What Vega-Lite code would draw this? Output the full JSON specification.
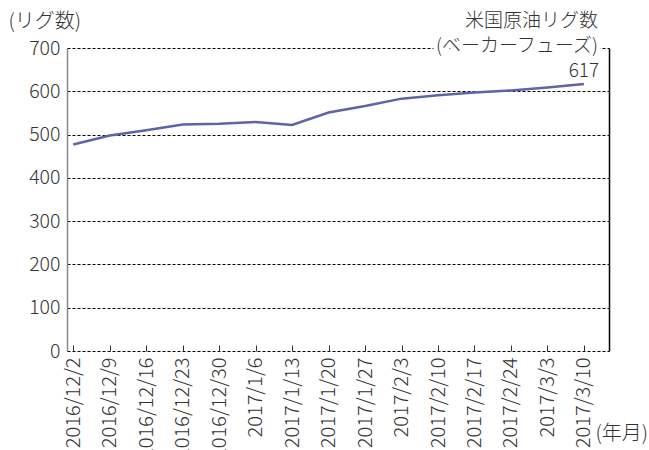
{
  "$schema": "https://vega.github.io/schema/vega-lite/v6.json",
  "autosize": {"type": "none"},
  "width": 542,
  "height": 303,
  "padding": {"left": 67, "top": 48, "right": 40, "bottom": 99},
  "background": "white",
  "config": {
    "view": {"stroke": null},
    "font": "Noto Sans CJK JP",
    "text": {"fontWeight": 300},
    "axis": {
      "labelFont": "Noto Sans CJK JP",
      "labelFontSize": 19.5,
      "labelFontWeight": 300,
      "labelColor": "#333",
      "titleFont": "Noto Sans CJK JP",
      "titleFontSize": 20,
      "titleFontWeight": 300,
      "titleColor": "#333"
    }
  },
  "data": {
    "values": [
      {"date": "2016/12/2", "rigs": 477},
      {"date": "2016/12/9", "rigs": 498},
      {"date": "2016/12/16", "rigs": 510},
      {"date": "2016/12/23", "rigs": 523},
      {"date": "2016/12/30", "rigs": 525},
      {"date": "2017/1/6", "rigs": 529},
      {"date": "2017/1/13", "rigs": 522},
      {"date": "2017/1/20", "rigs": 551},
      {"date": "2017/1/27", "rigs": 566},
      {"date": "2017/2/3", "rigs": 583},
      {"date": "2017/2/10", "rigs": 591},
      {"date": "2017/2/17", "rigs": 597},
      {"date": "2017/2/24", "rigs": 602},
      {"date": "2017/3/3", "rigs": 609},
      {"date": "2017/3/10", "rigs": 617}
    ]
  },
  "layer": [
    {
      "mark": {"type": "line", "color": "#5f63a8", "strokeWidth": 2.5},
      "encoding": {
        "x": {
          "field": "date", "type": "ordinal", "sort": null,
          "scale": {"type": "point", "padding": 0.43, "align": 0.2},
          "axis": {
            "labelAngle": -90, "labelAlign": "right", "labelBaseline": "middle",
            "labelOverlap": false, "labelFontSize": 20,
            "tickSize": -6, "tickColor": "#333", "labelPadding": 12,
            "domain": false, "grid": false,
            "title": "(年月)", "titleAngle": 0, "titleAlign": "left", "titleBaseline": "middle",
            "titleX": 528, "titleY": 82
          }
        },
        "y": {
          "field": "rigs", "type": "quantitative",
          "scale": {"domain": [0, 700]},
          "axis": {
            "values": [0, 100, 200, 300, 400, 500, 600, 700],
            "grid": true, "gridColor": "#000", "gridDash": [3, 2], "gridWidth": 1,
            "ticks": false, "domainColor": "#888", "domainWidth": 1.5, "labelPadding": 7,
            "title": "(リグ数)", "titleAngle": 0, "titleAlign": "left", "titleBaseline": "middle",
            "titleX": -59, "titleY": -27
          }
        }
      }
    },
    {
      "data": {"values": [{"label": "(ベーカーフューズ)"}]},
      "mark": {"type": "text", "dx": 14, "dy": -2, "align": "right", "baseline": "middle", "fontSize": 19, "stroke": "white", "strokeWidth": 9, "fill": "white"},
      "encoding": {
        "x": {"datum": "2017/3/10", "type": "ordinal"},
        "y": {"datum": 700, "type": "quantitative", "axis": null},
        "text": {"field": "label", "type": "nominal"}
      }
    },
    {
      "data": {"values": [{"label": "(ベーカーフューズ)"}]},
      "mark": {"type": "text", "dx": 14, "dy": -2, "align": "right", "baseline": "middle", "fontSize": 19, "fill": "#333"},
      "encoding": {
        "x": {"datum": "2017/3/10", "type": "ordinal"},
        "y": {"datum": 700, "type": "quantitative", "axis": null},
        "text": {"field": "label", "type": "nominal"}
      }
    },
    {
      "data": {"values": [{"label": "米国原油リグ数"}]},
      "mark": {"type": "text", "dx": 14, "dy": -27, "align": "right", "baseline": "middle", "fontSize": 19, "fill": "#333"},
      "encoding": {
        "x": {"datum": "2017/3/10", "type": "ordinal"},
        "y": {
          "datum": 700, "type": "quantitative",
          "axis": {"orient": "right", "labels": false, "ticks": false, "grid": false, "domainColor": "#000", "domainWidth": 1.5, "title": null}
        },
        "text": {"field": "label", "type": "nominal"}
      }
    },
    {
      "transform": [{"filter": "datum.date == '2017/3/10'"}],
      "mark": {"type": "text", "dy": -7, "baseline": "alphabetic", "align": "center", "fontSize": 19, "fill": "#333"},
      "encoding": {
        "x": {"field": "date", "type": "ordinal", "sort": null},
        "y": {"field": "rigs", "type": "quantitative", "axis": null},
        "text": {"field": "rigs", "type": "quantitative"}
      }
    }
  ],
  "resolve": {"axis": {"y": "independent"}}
}
